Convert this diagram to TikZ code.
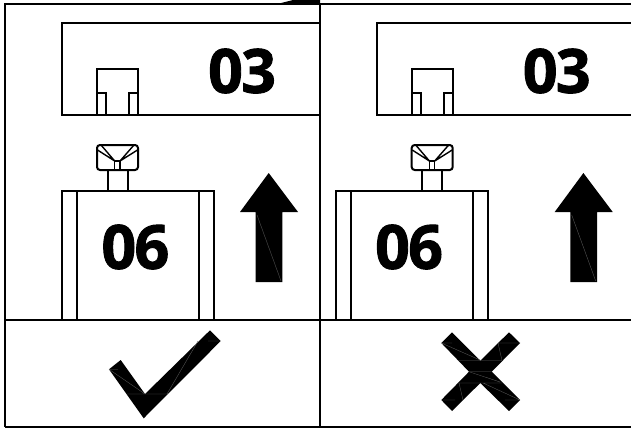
\documentclass[tikz,border=0pt]{standalone}
\usepackage{fontspec}
\setmainfont{Open Sans}
\newfontfamily\numfont[FakeBold=1.5,LetterSpace=-3]{Open Sans Bold}
\tikzset{
  thinline/.style={line width=2pt,black,line join=miter},
  frameline/.style={line width=2.2pt,black},
  seam/.style={line width=0.35pt,black!65},
  num/.style={font=\numfont\fontsize{61}{61}\selectfont,inner sep=0pt,text=black}
}
\newcommand{\topparts}[1]{%
 \begin{scope}[xshift=#1]
  \draw[thinline] (320,23.5) -| (62,114.5) -- (320,114.5);
  \draw[thinline] (97,114.5) -- (97,69) -- (138,69) -- (138,114.5);
  \draw[thinline] (97,93) -- (106,93) -- (106,114.5) (138,93) -- (129,93) -- (129,114.5);
  \draw[thinline,rounded corners=3pt] (97,145) rectangle (138,170);
  \draw[thinline,line width=1.4pt] (101,145) -- (114.7,161) (97.5,150) -- (114.7,161) (134,145) -- (120,161) (137.5,150) -- (120,161);
  \draw[thinline,line width=1.4pt] (114.7,170) -- (114.7,161) -- (120,161) -- (120,170);
  \draw[thinline] (107.5,170) -- (107.5,191) (127.5,170) -- (127.5,191);
  \fill (268.7,173) -- (298,212) -- (282.3,212) -- (282.3,282) -- (255.7,282) -- (255.7,212) -- (240,212) -- cycle;
  \draw[seam] (257,215) -- (281,281);
 \end{scope}}
\newcommand{\bodypart}[1]{%
 \begin{scope}[xshift=#1]
  \draw[thinline] (62,320) -- (62,191) -- (214,191) -- (214,320);
  \draw[thinline] (77,191) -- (77,320) (199,191) -- (199,320);
 \end{scope}}
\begin{document}
\begin{tikzpicture}[x=1pt,y=-1pt]
\useasboundingbox (0,0) rectangle (631,428);
\clip (0,0) rectangle (631,428);
\fill[white] (0,0) rectangle (631,428);
\topparts{0pt}
\topparts{314.7pt}
\bodypart{0pt}
\bodypart{273.7pt}
% frame
\draw[frameline] (5,427) -- (5,4) -- (631,4);
\draw[frameline] (320,4) -- (320,427);
\draw[frameline] (5,320.3) -- (631,320.3);
\draw[frameline] (5,427) -- (631,427);
\fill (281,3) -- (293,0) -- (320,0) -- (320,3) -- cycle;
% numbers
\node[num] (n1) at (242,71) {03};
\node[num] (n2) at (556.7,71) {03};
\node[num] (n3) at (135.3,247) {06};
\node[num] (n4) at (409,247) {06};
% check
\fill (109,369.3) -- (120.7,360) -- (145,394) -- (210,330.3) -- (220.7,341) -- (143.7,418.3) -- cycle;
\draw[seam] (109,369.3) -- (145,394) (127,394) -- (167,394) (118,369.3) -- (109,369.3) (208,341) -- (220.7,341) (167,394) -- (198,341);
% cross
\fill (452,332.3) -- (480.3,360.7) -- (509,332.3) -- (520,343) -- (491.7,371.7) -- (520,400) -- (509,411) -- (480.3,383) -- (452,411) -- (441.3,400) -- (469,371.7) -- (441.3,343) -- cycle;
\draw[seam] (441.3,343) -- (480,360) (441.3,343) -- (452,343) (458,360.5) -- (502,360.5) (469,371.7) -- (491.7,371.7)
 (469,371.7) -- (500,382) (458,383) -- (502,383) (483,383) -- (520,400) (441.3,400) -- (455,400) (505,400) -- (520,400)
 (498,343) -- (502,360.5) (459,383) -- (463,400) (498,343) -- (520,343);
\end{tikzpicture}
\end{document}
